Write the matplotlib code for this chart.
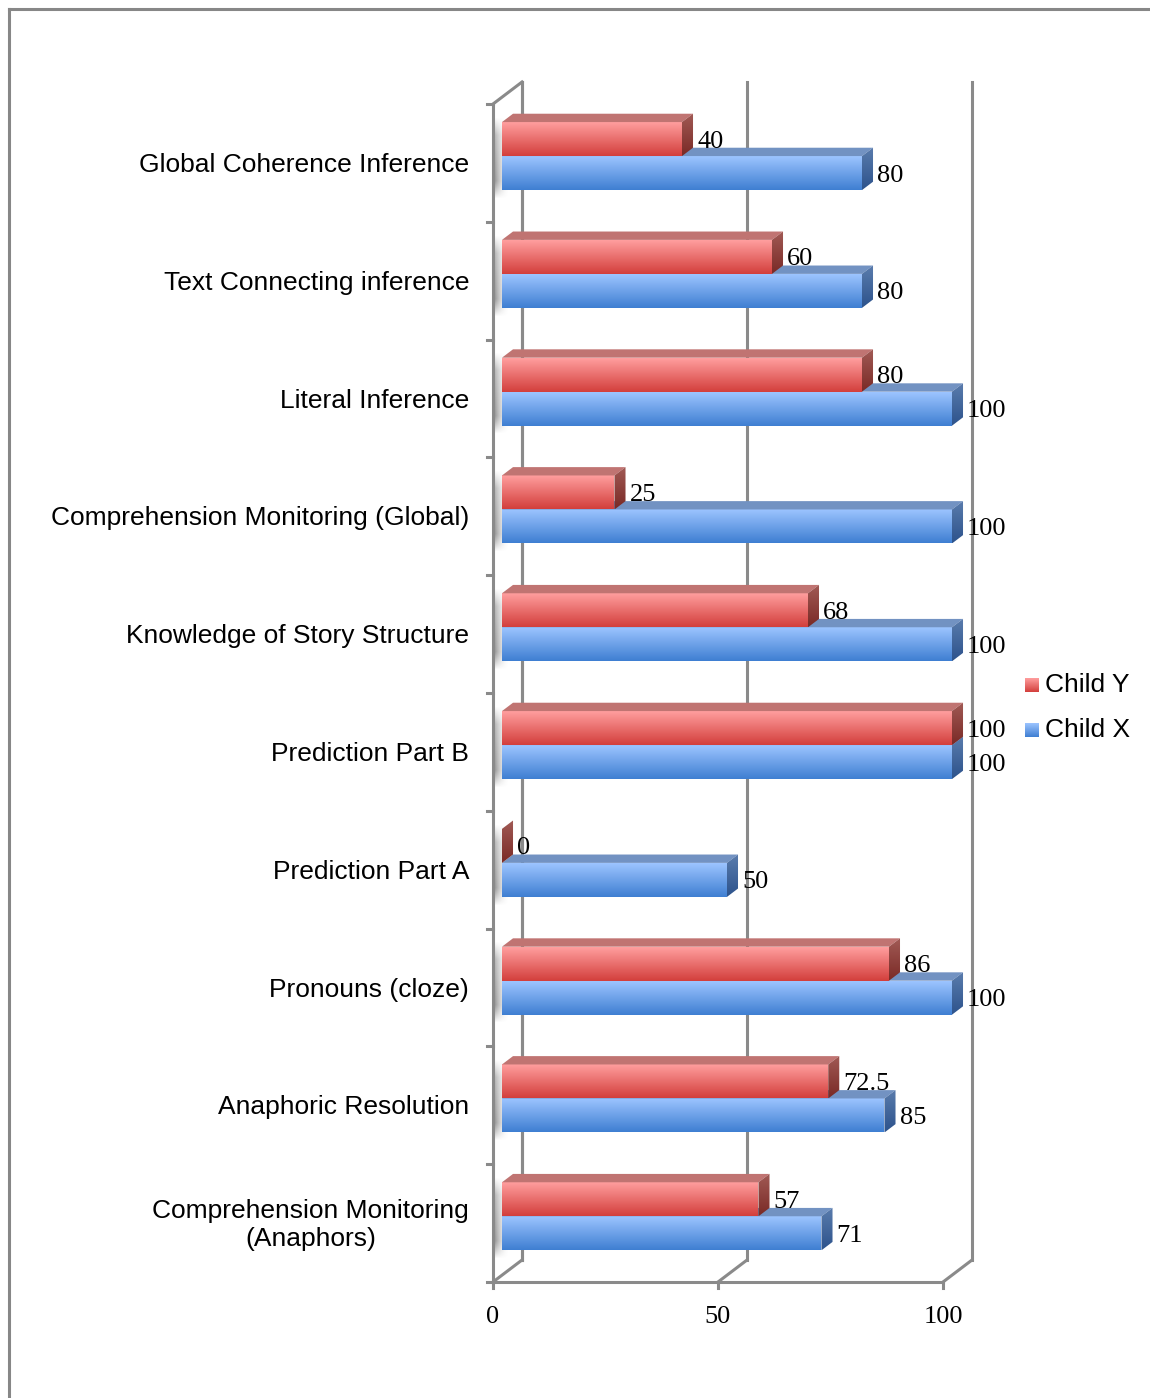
import numpy as np
import matplotlib.pyplot as plt
from matplotlib.colors import to_rgb
from matplotlib.lines import Line2D
from matplotlib.patches import Polygon

categories = ['Global Coherence Inference', 'Text Connecting inference',
              'Literal Inference', 'Comprehension Monitoring (Global)',
              'Knowledge of Story Structure', 'Prediction Part B',
              'Prediction Part A', 'Pronouns (cloze)', 'Anaphoric Resolution',
              'Comprehension Monitoring\n(Anaphors)']
child_y = [40, 60, 80, 25, 68, 100, 0, 86, 72.5, 57]
child_x = [80, 80, 100, 100, 100, 100, 50, 100, 85, 71]
x_ticks = [0, 50, 100]
series_names = ['Child Y', 'Child X']

# face colours: front (top, bottom), top face, side (top, bottom)
RED = dict(front=('#ff9e9e', '#d33f3c'), top='#c07472', side=('#a15a55', '#7a2a26'))
BLUE = dict(front=('#9cc4ff', '#3f7fd2'), top='#7292c2', side=('#5a7cad', '#2d538c'))

W, H = 1150, 1398
fig = plt.figure(figsize=(W / 100, H / 100), dpi=100)
ax = fig.add_axes([0, 0, 1, 1])

# front plane of the 3d box: value 0 at px 493, 1 unit = 4.5 px; rows 117.8 px tall from px 104
X0, XPX = 493, 4.5
Y0, YPX = 104, 117.8
xlim = (-X0 / XPX, (W - X0) / XPX)
ylim = ((H - Y0) / YPX, -Y0 / YPX)

# wall depth and where the bars sit inside it
DX, DY = 29 / XPX, -22 / YPX
F0, F1 = 0.31, 0.69
BAR_H = 34 / YPX
n = len(categories)

wall = dict(color='#8a8a8a', lw=2.2, solid_capstyle='projecting', zorder=1)
num_font = dict(family='Liberation Serif', fontsize=19)


def gradient_poly(verts, c_top, c_bot, zorder):
    poly = Polygon(verts, closed=True, facecolor='none', edgecolor='none')
    ax.add_patch(poly)
    xs = [v[0] for v in verts]
    ys = [v[1] for v in verts]
    if max(xs) - min(xs) <= 0:
        return
    g = np.linspace(0, 1, 64)[:, None, None]
    img = (1 - g) * np.array(to_rgb(c_top)) + g * np.array(to_rgb(c_bot))
    img = np.repeat(img, 2, axis=1)
    im = ax.imshow(img, extent=(min(xs), max(xs), max(ys), min(ys)),
                   origin='upper', aspect='auto', interpolation='bilinear',
                   zorder=zorder)
    im.set_clip_path(poly)


def wall_shadow(y_top, y_bot):
    # soft shadow the bar pair casts on the left wall
    h = np.linspace(0, 1, 32)
    v = np.linspace(0, 1, 64)
    alpha = np.outer(np.clip(np.sin(np.pi * v) * 1.6, 0, 1) * (0.5 + 0.5 * v),
                     (1 - h) ** 1.5) * 0.8
    img = np.zeros((64, 32, 4))
    img[..., :3] = 0.45
    img[..., 3] = alpha
    ax.imshow(img, extent=(2 / XPX, 16 / XPX, y_bot, y_top), origin='upper',
              aspect='auto', interpolation='bilinear', zorder=2)


def bar3d(value, y_top, style, zorder):
    # front face starts at depth F0, box goes back to F1
    fx, fy = F0 * DX, F0 * DY
    bx, by = (F1 - F0) * DX, (F1 - F0) * DY
    xs, xe = fx, value + fx
    yt, yb = y_top + fy, y_top + BAR_H + fy
    gradient_poly([(xs, yt), (xe, yt), (xe, yb), (xs, yb)], *style['front'], zorder)
    ax.add_patch(Polygon([(xs, yt), (xe, yt), (xe + bx, yt + by), (xs + bx, yt + by)],
                         closed=True, facecolor=style['top'], edgecolor='none',
                         zorder=zorder))
    gradient_poly([(xe, yt), (xe + bx, yt + by), (xe + bx, yb + by), (xe, yb)],
                  *style['side'], zorder)
    return xe + bx, (yt + yb) / 2


# walls and floor
ax.plot([0, 0], [0, n], **wall)
ax.plot([DX, DX], [DY, n + DY], **wall)
ax.plot([0, DX], [0, DY], **wall)
for t in x_ticks:
    ax.plot([t + DX, t + DX], [DY, n + DY], **wall)
    ax.plot([t, t + DX], [n, n + DY], **wall)
    ax.plot([t, t], [n, n + 6 / YPX], **wall)
    ax.text(t, n + 41 / YPX, f'{t}', ha='center', va='baseline', **num_font)
ax.plot([0, 100], [n, n], **wall)
for i in range(n + 1):
    ax.plot([-6 / XPX, 0], [i, i], **wall)

# bars
for i, cat in enumerate(categories):
    c = i + 0.5
    ax.text(-24 / XPX, c + 2 / YPX, cat, ha='right', va='center',
            multialignment='center', family='Liberation Sans', fontsize=19,
            linespacing=1.25)
    wall_shadow(c - BAR_H - 12 / YPX, c + BAR_H + 2 / YPX)
    xl, yl = bar3d(child_x[i], c, BLUE, 3)
    ax.text(xl + 4 / XPX, yl + 8.5 / YPX, f'{child_x[i]:g}', ha='left',
            va='baseline', zorder=6, **num_font)
    xl, yl = bar3d(child_y[i], c - BAR_H, RED, 4)
    ax.text(xl + 4 / XPX, yl + 8.5 / YPX, f'{child_y[i]:g}', ha='left',
            va='baseline', zorder=6, **num_font)

# legend
for k, (name, style) in enumerate(zip(series_names, [RED, BLUE])):
    ly = (685 + 45 * k - Y0) / YPX
    lx = (1025 - X0) / XPX
    sw, sh = 14 / XPX, 14 / YPX
    gradient_poly([(lx, ly - sh / 2), (lx + sw, ly - sh / 2), (lx + sw, ly + sh / 2),
                   (lx, ly + sh / 2)], *style['front'], 5)
    ax.text(lx + 20 / XPX, ly, name, ha='left', va='center',
            family='Liberation Sans', fontsize=19)

ax.set_xlim(*xlim)
ax.set_ylim(*ylim)
ax.axis('off')

# outer chart frame
fig.add_artist(Line2D([9 / W, 9 / W], [1 - 9 / H, 0], color='#878787', lw=2.2,
                      transform=fig.transFigure))
fig.add_artist(Line2D([9 / W, 1], [1 - 9 / H, 1 - 9 / H], color='#878787', lw=2.2,
                      transform=fig.transFigure))

fig.savefig('out.png', dpi=100)
